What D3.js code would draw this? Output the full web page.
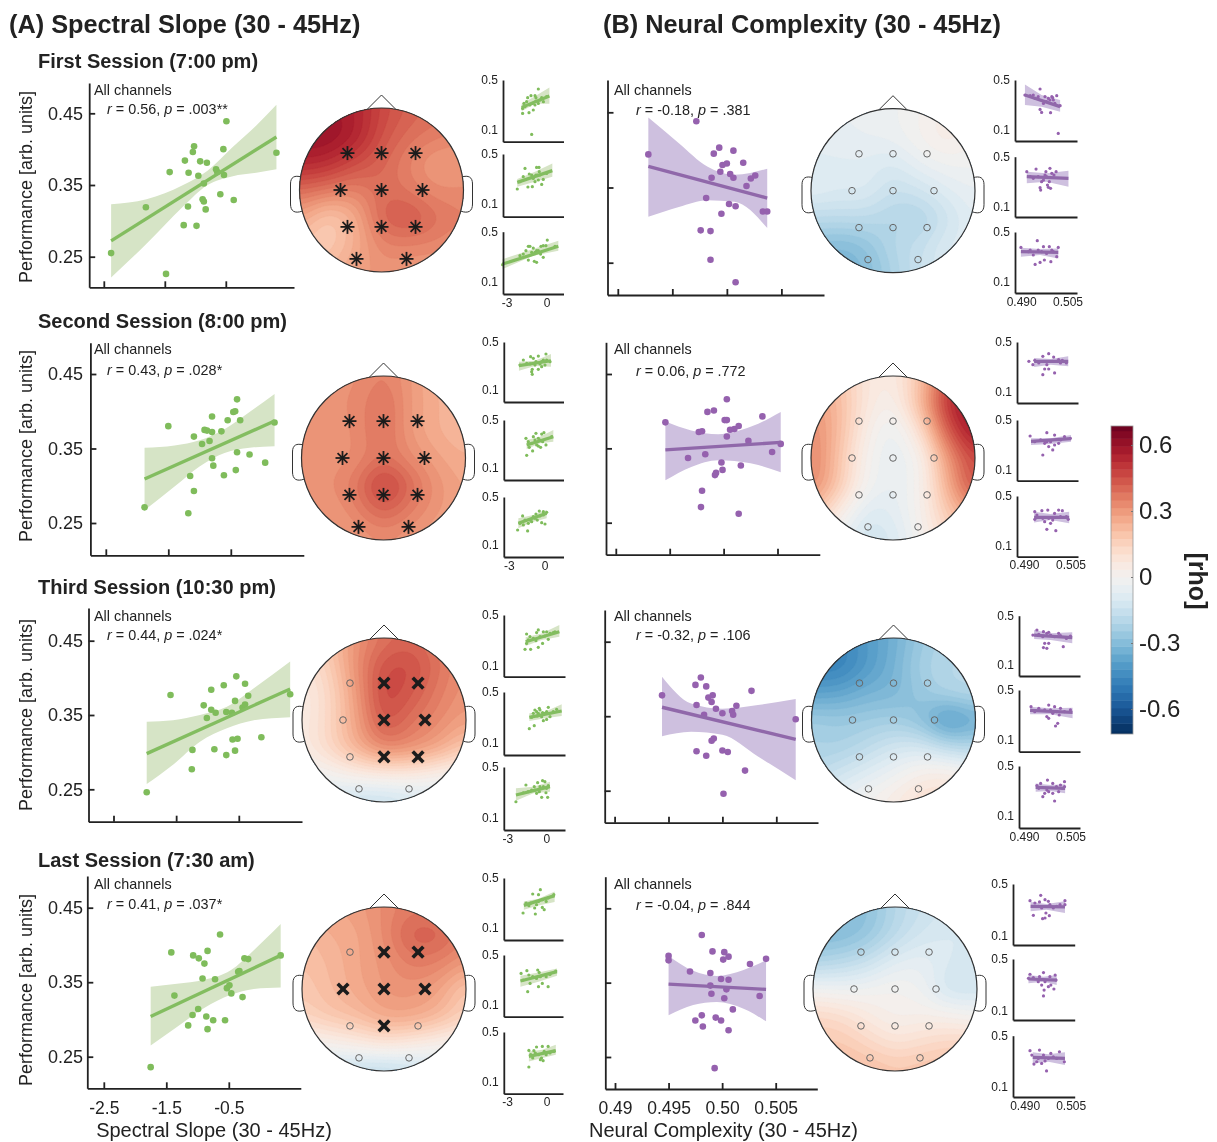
<!DOCTYPE html>
<html>
<head>
<meta charset="utf-8">
<title>Spectral slope and neural complexity vs performance</title>
<style>
body { margin: 0; background: #fff; }
svg { display: block; font-family: "Liberation Sans", Arial, sans-serif; filter: blur(0.45px); }
text { fill: #222; }
.axis path, .axis line { stroke: #222; }
.axis text { fill: #222; }
</style>
</head>
<body>
<div id="chart"></div>
<script src="https://cdn.jsdelivr.net/npm/d3@7"></script>
<script>
var sessionTitles = ["First Session (7:00 pm)", "Second Session (8:00 pm)", "Third Session (10:30 pm)", "Last Session (7:30 am)"];
var yTicks = [0.25, 0.35, 0.45], yTickLabels = ["0.25", "0.35", "0.45"];
var xTicksA = [-2.5, -1.5, -0.5], xTickLabelsA = ["-2.5", "-1.5", "-0.5"];
var xTicksB = [0.49, 0.495, 0.5, 0.505], xTickLabelsB = ["0.49", "0.495", "0.50", "0.505"];
var smallYTicks = [0.1, 0.5], smallYLabels = ["0.1", "0.5"];
var smallXTicksA = [-3, 0], smallXLabelsA = ["-3", "0"];
var smallXTicksB = [0.49, 0.505], smallXLabelsB = ["0.490", "0.505"];
var statsA = [["0.56", ".003**"], ["0.43", ".028*"], ["0.44", ".024*"], ["0.41", ".037*"]];
var statsB = [["-0.18", ".381"], ["0.06", ".772"], ["-0.32", ".106"], ["-0.04", ".844"]];
var cbTicks = [-0.6, -0.3, 0, 0.3, 0.6], cbLabels = ["-0.6", "-0.3", "0", "0.3", "0.6"];

// main scatter points [x, performance]
var ptsA1 = [[-2.38,.255],[-1.81,.319],[-1.48,.226],[-1.42,.368],[-1.19,.294],[-1.17,.384],[-1.12,.320],[-1.11,.367],[-1.04,.396],[-1.02,.404],[-.98,.293],[-.95,.363],[-.92,.383],[-.88,.330],[-.86,.327],[-.86,.352],[-.83,.316],[-.81,.381],[-.66,.372],[-.64,.368],[-.59,.337],[-.54,.400],[-.53,.364],[-.49,.439],[-.37,.329],[.33,.395]];
var ptsA2 = [[-1.88,.271],[-1.50,.380],[-1.18,.263],[-1.15,.313],[-1.09,.366],[-1.09,.293],[-.96,.356],[-.92,.375],[-.88,.374],[-.84,.360],[-.80,.393],[-.80,.337],[-.80,.372],[-.78,.327],[-.65,.373],[-.61,.314],[-.55,.388],[-.46,.399],[-.43,.400],[-.42,.321],[-.40,.416],[-.40,.345],[-.35,.388],[-.20,.342],[.05,.331],[.20,.385]];
var ptsA3 = [[-1.97,.246],[-1.59,.377],[-1.25,.277],[-1.24,.303],[-1.06,.363],[-1.01,.346],[-.94,.384],[-.94,.357],[-.89,.304],[-.87,.353],[-.74,.390],[-.70,.296],[-.70,.354],[-.61,.353],[-.60,.317],[-.56,.369],[-.56,.302],[-.54,.402],[-.52,.318],[-.44,.360],[-.40,.392],[-.40,.364],[-.35,.376],[-.14,.320],[.32,.378]];
var ptsA4 = [[-1.75,.236],[-1.42,.390],[-1.37,.332],[-1.15,.292],[-1.08,.306],[-1.07,.386],[-.99,.314],[-.98,.382],[-.92,.355],[-.89,.375],[-.86,.304],[-.84,.287],[-.84,.392],[-.75,.299],[-.72,.354],[-.64,.414],[-.56,.299],[-.53,.342],[-.49,.346],[-.46,.335],[-.35,.364],[-.33,.365],[-.28,.330],[-.25,.382],[-.19,.381],[.33,.386]];
var ptsB1 = [[.4928,.394],[.4972,.438],[.4976,.293],[.4981,.336],[.4985,.292],[.4985,.254],[.4986,.363],[.4988,.395],[.4993,.403],[.4994,.371],[.4995,.315],[.4996,.380],[.5000,.382],[.5002,.328],[.5003,.368],[.5006,.399],[.5006,.363],[.5008,.325],[.5008,.224],[.5015,.383],[.5018,.352],[.5022,.362],[.5026,.366],[.5033,.318],[.5037,.318]];
var ptsB2 = [[.4946,.385],[.4967,.337],[.4977,.372],[.4980,.373],[.4979,.271],[.4980,.293],[.4983,.342],[.4985,.399],[.4991,.401],[.4992,.314],[.4993,.317],[.4998,.331],[.4999,.321],[.5001,.388],[.5003,.388],[.5003,.416],[.5003,.366],[.5006,.375],[.5010,.376],[.5014,.380],[.5014,.262],[.5016,.327],[.5023,.360],[.5036,.393],[.5045,.345],[.5053,.356]];
var ptsB3 = [[.4944,.378],[.4975,.392],[.4976,.365],[.4976,.303],[.4980,.402],[.4983,.352],[.4985,.297],[.4985,.390],[.4987,.375],[.4991,.378],[.4990,.369],[.4990,.317],[.4992,.320],[.4994,.360],[.5000,.354],[.5000,.304],[.5001,.246],[.5005,.302],[.5009,.357],[.5010,.352],[.5013,.364],[.5021,.277],[.5027,.384],[.5068,.346]];
var ptsB4 = [[.4950,.386],[.4950,.380],[.4970,.365],[.4975,.299],[.4981,.414],[.4981,.306],[.4982,.291],[.4989,.363],[.4989,.346],[.4990,.335],[.4991,.392],[.4993,.235],[.4994,.303],[.4999,.299],[.4999,.355],[.5002,.391],[.5001,.381],[.5002,.329],[.5004,.341],[.5006,.385],[.5006,.354],[.5006,.286],[.5010,.314],[.5026,.375],[.5035,.332],[.5041,.382]];

// regression lines [x, y] ends and confidence bands [x, lower, upper]
var lineA1 = [[-2.38,.272],[.33,.417]], bandA1 = [[-2.38,.221,.323],[-1.8,.268,.33],[-1.2,.32,.35],[-.8,.35,.37],[-.4,.362,.402],[0,.367,.433],[.33,.372,.462]];
var lineA2 = [[-1.88,.309],[.2,.387]], bandA2 = [[-1.88,.267,.351],[-1.4,.299,.354],[-1,.326,.361],[-.6,.344,.376],[-.2,.351,.399],[.2,.353,.423]];
var lineA3 = [[-1.97,.298],[.32,.385]], bandA3 = [[-1.97,.257,.341],[-1.55,.283,.343],[-1.12,.314,.35],[-.69,.332,.361],[-.26,.343,.386],[.32,.347,.422]];
var lineA4 = [[-1.75,.304],[.33,.386]], bandA4 = [[-1.75,.265,.344],[-1.33,.29,.348],[-.9,.315,.353],[-.47,.333,.366],[-.1,.341,.393],[.33,.343,.428]];
var lineB1 = [[.4928,.378],[.5037,.336]], bandB1 = [[.4928,.311,.443],[.4956,.324,.409],[.4982,.333,.378],[.5007,.331,.367],[.5037,.296,.375]];
var lineB2 = [[.4946,.348],[.5053,.358]], bandB2 = [[.4946,.307,.386],[.4970,.325,.374],[.4995,.334,.369],[.5025,.33,.379],[.5053,.318,.399]];
var lineB3 = [[.4944,.362],[.5068,.319]], bandB3 = [[.4944,.323,.403],[.4971,.329,.367],[.5000,.325,.36],[.5033,.296,.365],[.5068,.264,.373]];
var lineB4 = [[.4950,.348],[.5041,.341]], bandB4 = [[.4950,.306,.386],[.4973,.32,.366],[.4995,.324,.359],[.5020,.315,.367],[.5041,.298,.38]];

// the three small channel-cluster scatters of every session
var smallA1 = [
  {line:[[-2.05,.281],[.03,.372]], band:[[-2.05,.25,.31],[-1.05,.31,.37],[.03,.31,.44]], pts:[[-.8,.428],[-1.6,.359],[-1.35,.375],[-1.05,.375],[-.98,.359],[-.55,.359],[-1.98,.273],[-1.88,.313],[-1.5,.239],[-1.18,.26],[-1.98,.233],[-1.3,.065],[-.42,.327],[-.8,.313],[-1.43,.3],[-.18,.367],[-1.68,.327],[-1.23,.313],[-.68,.34],[-.98,.332],[-1.8,.287],[-1.05,.3]]},
  {line:[[-2.38,.273],[.25,.367]], band:[[-2.38,.239,.3],[-1.05,.279,.359],[.25,.319,.425]], pts:[[-1.8,.385],[-1.48,.34],[-.93,.393],[-.75,.393],[-.73,.359],[-.43,.297],[-.55,.257],[-1.05,.279],[-1.25,.239],[-1.58,.236],[-2.38,.22],[-.98,.332],[-1.18,.305],[-.8,.292],[-1.93,.319],[-.68,.332],[-.18,.345],[-1.3,.332],[-.88,.332],[-2.18,.279]]},
  {line:[[-3.48,.241],[.7,.383]], band:[[-3.48,.201,.28],[-1.18,.308,.361],[.7,.348,.428]], pts:[[-3.48,.236],[-1.73,.348],[-1.55,.383],[-1.43,.383],[-.13,.433],[-.43,.388],[-.6,.383],[-1.18,.369],[-.93,.348],[-1.55,.273],[-1.1,.263],[-.93,.255],[-.43,.295],[-.63,.321],[-1.05,.335],[-1.3,.335],[-.8,.348],[-.23,.388],[-1.93,.321],[.45,.383],[-2.18,.308]]}
];
var smallA2 = [
  {line:[[-2.19,.303],[.5,.344]], band:[[-2.19,.261,.336],[-.84,.3,.344],[.5,.294,.4]], pts:[[-1.21,.378],[-.98,.364],[-.56,.383],[.08,.4],[-.14,.35],[-.28,.336],[0,.308],[-.56,.272],[-1.07,.272],[-1.12,.253],[-1.07,.231],[-.28,.294],[-.76,.336],[-1.54,.322],[-2.1,.308],[-1.82,.35],[.14,.35],[-.42,.317],[-1.26,.317],[-.84,.308],[.42,.336]]},
  {line:[[-1.54,.292],[.7,.361]], band:[[-1.54,.256,.333],[-.42,.306,.361],[.7,.319,.417]], pts:[[-1.54,.206],[-1.6,.347],[-.76,.389],[-.28,.383],[-.09,.394],[-1.04,.242],[-1.32,.272],[-.56,.283],[-.37,.272],[.08,.292],[-.2,.319],[-1.12,.306],[-.84,.333],[-.56,.347],[-1.4,.319],[-.42,.333],[-.98,.361],[.56,.361],[-.7,.292]]},
  {line:[[-2.24,.281],[.14,.364]], band:[[-2.24,.239,.322],[-.98,.294,.35],[.14,.322,.392]], pts:[[-2.3,.225],[-1.46,.217],[-1.88,.342],[-.76,.358],[-.48,.383],[-.14,.378],[.14,.372],[0,.275],[-.28,.286],[-.65,.308],[-.98,.336],[-1.26,.308],[-1.68,.308],[-2.1,.281],[-1.12,.294],[-.84,.322],[-.42,.342],[-1.4,.281],[-1.82,.267],[-.14,.35]]}
];
var smallA3 = [
  {line:[[-1.74,.289],[.85,.368]], band:[[-1.74,.255,.324],[-.51,.303,.355],[.85,.329,.421]], pts:[[-1.67,.35],[-.9,.361],[-.77,.382],[-.38,.368],[-.13,.368],[-1.79,.229],[-1.36,.229],[-.77,.245],[-.44,.276],[0,.308],[-1.54,.303],[-1.15,.316],[-.64,.329],[.13,.355],[.51,.368],[-.95,.297],[-1.41,.329],[-.26,.334],[.38,.361],[-1.67,.276]]},
  {line:[[-1.46,.3],[1.03,.35]], band:[[-1.46,.271,.332],[-.26,.292,.345],[1.03,.311,.403]], pts:[[-1.46,.211],[-1.08,.234],[-1.03,.358],[-.69,.371],[0,.379],[-.38,.274],[-.13,.284],[.13,.305],[-.51,.305],[-.9,.345],[-.26,.332],[.38,.345],[-1.28,.3],[-.77,.332],[-.64,.358],[-1.15,.332],[-.44,.337],[-.13,.345],[.64,.363],[-.85,.311]]},
  {line:[[-2.49,.279],[.13,.345]], band:[[-2.49,.234,.332],[-1.15,.292,.345],[.13,.305,.384]], pts:[[-2.49,.226],[-1.72,.358],[-1.08,.345],[-.82,.376],[-.44,.392],[-.26,.384],[0,.353],[-.51,.261],[-.05,.261],[-.18,.297],[-.69,.305],[-.9,.292],[-1.54,.305],[-1.92,.297],[-1.28,.318],[-.38,.345],[-.64,.345],[-.13,.332],[-1.03,.318]]}
];
var smallA4 = [
  {line:[[-1.92,.281],[.41,.359]], band:[[-1.92,.247,.313],[-.81,.281,.335],[.41,.308,.393]], pts:[[-.67,.407],[-1.25,.372],[-.81,.367],[-1.98,.22],[-1.05,.212],[-.38,.247],[-.52,.265],[-1.1,.26],[-1.75,.3],[-1.4,.3],[-.81,.313],[-.23,.313],[.21,.353],[.35,.367],[-1.54,.279],[-.52,.327],[-.08,.34],[-.96,.287]]},
  {line:[[-2.18,.292],[.59,.367]], band:[[-2.18,.247,.335],[-.81,.287,.361],[.59,.335,.393]], pts:[[-1.63,.207],[-1.69,.375],[-.87,.38],[-.76,.361],[.5,.372],[-.81,.247],[-.08,.247],[-1.45,.273],[-.52,.273],[-1.25,.327],[-.23,.327],[-1.98,.3],[-.96,.313],[.06,.345],[-1.54,.34],[-.67,.327],[-2.13,.353]]},
  {line:[[-1.54,.305],[.5,.351]], band:[[-1.54,.265,.345],[-.52,.292,.359],[.5,.319,.399]], pts:[[-1.54,.22],[-1.54,.353],[-.96,.38],[-.52,.385],[-.08,.385],[.35,.345],[-.67,.279],[-.46,.271],[-1.25,.292],[-.81,.319],[-.23,.319],[-1.4,.319],[-1.05,.332],[-.38,.345],[.06,.332],[-.58,.292],[-1.16,.351]]}
];
var smallB1 = [
  {line:[[.4904,.38],[.5018,.287]], band:[[.4904,.3,.465],[.4958,.287,.38],[.5018,.247,.34]], pts:[[.4953,.428],[.4904,.38],[.4931,.38],[.4947,.367],[.4969,.367],[.4991,.367],[.5007,.375],[.4985,.34],[.4953,.265],[.4958,.241],[.4987,.239],[.5012,.073],[.4964,.313],[.4996,.34],[.498,.353],[.4937,.353],[.4921,.375],[.5001,.313],[.4974,.327],[.4994,.359],[.5018,.295]]},
  {line:[[.491,.34],[.5045,.327]], band:[[.491,.287,.38],[.4974,.3,.367],[.5045,.26,.388]], pts:[[.491,.38],[.494,.401],[.4972,.38],[.4985,.407],[.5005,.38],[.4998,.353],[.4974,.34],[.4983,.3],[.4987,.247],[.498,.255],[.4958,.3],[.4955,.233],[.4953,.252],[.4964,.313],[.4969,.353],[.4991,.367],[.4947,.34],[.4931,.327],[.4977,.273],[.4921,.34]]},
  {line:[[.4891,.343],[.5012,.337]], band:[[.4891,.303,.375],[.4953,.316,.364],[.5012,.289,.369]], pts:[[.4891,.377],[.4944,.431],[.4964,.383],[.4983,.383],[.5012,.377],[.4937,.241],[.4953,.257],[.4967,.276],[.4988,.263],[.4947,.356],[.4915,.343],[.4931,.316],[.4958,.343],[.4974,.329],[.4996,.343],[.5007,.303],[.4921,.356],[.4991,.356]]}
];
var smallB2 = [
  {line:[[.4923,.343],[.5033,.343]], band:[[.4923,.297,.37],[.4976,.316,.362],[.5033,.303,.384]], pts:[[.497,.405],[.4951,.384],[.4986,.378],[.5002,.357],[.4925,.351],[.4906,.343],[.5027,.33],[.5008,.33],[.4957,.281],[.497,.281],[.4951,.235],[.4989,.249],[.4964,.316],[.4983,.343],[.4938,.33],[.4995,.343],[.5014,.351],[.4919,.316]]},
  {line:[[.4913,.327],[.5042,.349]], band:[[.4913,.297,.351],[.4976,.305,.351],[.5042,.324,.378]], pts:[[.491,.37],[.4964,.397],[.4989,.378],[.5021,.365],[.4951,.216],[.4983,.257],[.4989,.297],[.497,.284],[.504,.351],[.4925,.324],[.4944,.338],[.4964,.324],[.5008,.338],[.4976,.324],[.4957,.311],[.5002,.311]]},
  {line:[[.4923,.327],[.5036,.327]], band:[[.4923,.284,.373],[.4976,.305,.354],[.5036,.278,.373]], pts:[[.4925,.373],[.4948,.381],[.4967,.386],[.5002,.386],[.5014,.381],[.4932,.346],[.4989,.359],[.4964,.23],[.4993,.219],[.4976,.278],[.4957,.292],[.4983,.305],[.5027,.332],[.4951,.319],[.5008,.332],[.4925,.311],[.497,.319],[.5033,.311]]}
];
var smallB3 = [
  {line:[[.4923,.343],[.5046,.322]], band:[[.4923,.311,.384],[.4976,.303,.357],[.5046,.276,.365]], pts:[[.4932,.384],[.4953,.37],[.497,.365],[.5002,.357],[.4919,.343],[.4957,.276],[.497,.276],[.4964,.235],[.4953,.241],[.5017,.249],[.4989,.33],[.4951,.33],[.5027,.316],[.4976,.343],[.4938,.349],[.5008,.338],[.4964,.357],[.504,.335]]},
  {line:[[.491,.335],[.5047,.319]], band:[[.491,.303,.365],[.4976,.303,.351],[.5047,.27,.357]], pts:[[.4913,.365],[.497,.378],[.4989,.365],[.4938,.351],[.4957,.338],[.4976,.338],[.5008,.351],[.4964,.284],[.5004,.297],[.4999,.23],[.4992,.208],[.497,.27],[.504,.338],[.5021,.324],[.4983,.311],[.4925,.324],[.4995,.324]]},
  {line:[[.4928,.327],[.5023,.319]], band:[[.4928,.292,.359],[.4976,.297,.346],[.5023,.278,.351]], pts:[[.4944,.359],[.4966,.386],[.4983,.359],[.5021,.373],[.4932,.341],[.4951,.251],[.4989,.216],[.497,.292],[.5002,.292],[.4957,.278],[.4983,.278],[.5014,.319],[.4938,.319],[.4995,.332],[.4964,.305],[.5008,.346],[.5021,.332]]}
];
var smallB4 = [
  {line:[[.4916,.326],[.5028,.321]], band:[[.4916,.287,.36],[.4968,.3,.344],[.5028,.274,.365]], pts:[[.4914,.37],[.4949,.412],[.4945,.36],[.4963,.378],[.4974,.365],[.5028,.37],[.4925,.256],[.4955,.23],[.4963,.235],[.4977,.253],[.4966,.274],[.4952,.313],[.4941,.326],[.499,.313],[.5012,.339],[.4979,.339],[.493,.352],[.5001,.326],[.5028,.339]]},
  {line:[[.4909,.344],[.5001,.336]], band:[[.4909,.31,.375],[.4958,.323,.362],[.5001,.297,.375]], pts:[[.4914,.381],[.4958,.394],[.4945,.362],[.4925,.355],[.4979,.362],[.4996,.375],[.496,.258],[.4958,.212],[.4974,.284],[.4992,.266],[.4982,.297],[.4963,.323],[.4941,.323],[.4952,.297],[.4999,.336],[.4909,.349]]},
  {line:[[.4923,.331],[.5028,.323]], band:[[.4923,.284,.37],[.4974,.297,.355],[.5028,.271,.37]], pts:[[.4914,.383],[.4927,.279],[.4945,.388],[.4952,.284],[.4968,.225],[.4982,.362],[.501,.375],[.5026,.297],[.4941,.323],[.4958,.349],[.4974,.323],[.499,.336],[.4936,.297],[.5001,.323],[.492,.349],[.4963,.303]]}
];

// topography: rho read on a 7 x 7 grid over the head, rows front to back
var rhoA1 = [[.58,.58,.55,.47,.42,.39,.38],[.6,.6,.55,.45,.39,.36,.34],[.54,.52,.46,.41,.35,.3,.3],[.4,.37,.35,.39,.37,.33,.33],[.28,.2,.26,.4,.43,.38,.35],[.2,.18,.25,.34,.35,.34,.32],[.2,.23,.28,.31,.3,.29,.28]];
var rhoA2 = [[.31,.32,.32,.35,.3,.24,.23],[.32,.32,.33,.38,.3,.25,.23],[.31,.31,.33,.38,.3,.25,.23],[.31,.31,.33,.38,.33,.28,.25],[.31,.32,.37,.48,.39,.31,.27],[.3,.3,.34,.4,.35,.3,.27],[.29,.29,.3,.32,.3,.27,.27]];
var rhoA3 = [[.1,.2,.31,.38,.4,.36,.32],[.08,.17,.32,.44,.45,.38,.32],[.05,.14,.3,.46,.43,.36,.31],[.05,.14,.28,.43,.38,.33,.28],[.05,.13,.24,.33,.31,.26,.18],[-.02,0,.04,.06,.06,.03,0],[-.1,-.12,-.15,-.15,-.12,-.1,-.08]];
var rhoA4 = [[.25,.27,.29,.33,.36,.35,.32],[.22,.25,.27,.33,.41,.41,.35],[.2,.23,.27,.31,.36,.35,.3],[.18,.22,.26,.3,.31,.28,.19],[.14,.18,.21,.26,.26,.22,.15],[0,.02,.05,.08,.06,.03,0],[-.1,-.14,-.17,-.18,-.15,-.12,-.08]];
var rhoB1 = [[-.06,-.05,-.04,-.03,0,.03,0],[-.07,-.06,-.05,-.04,0,.04,0],[-.08,-.08,-.08,-.1,-.05,-.02,-.02],[-.08,-.1,-.1,-.15,-.13,-.08,-.05],[-.18,-.18,-.18,-.2,-.2,-.13,-.07],[-.28,-.3,-.27,-.2,-.16,-.1,-.08],[-.3,-.33,-.3,-.22,-.15,-.1,-.08]];
var rhoB2 = [[.25,.2,.08,.06,.2,.45,.6],[.3,.22,.08,.03,.22,.5,.62],[.33,.22,.05,-.03,.12,.42,.58],[.35,.2,.02,-.05,.03,.3,.48],[.33,.18,0,-.05,.02,.25,.45],[.2,.06,-.08,-.07,.02,.18,.3],[.05,-.05,-.12,-.1,0,.12,.2]];
var rhoB3 = [[-.45,-.46,-.4,-.34,-.26,-.21,-.2],[-.47,-.47,-.4,-.33,-.24,-.2,-.2],[-.38,-.37,-.33,-.31,-.26,-.22,-.2],[-.25,-.26,-.25,-.24,-.28,-.39,-.33],[-.22,-.22,-.18,-.13,-.12,-.18,-.2],[-.18,-.13,-.08,-.03,.03,.04,0],[-.1,-.05,0,.05,.1,.1,.05]];
var rhoB4 = [[-.28,-.3,-.28,-.2,-.15,-.12,-.1],[-.3,-.3,-.26,-.18,-.12,-.1,-.1],[-.21,-.19,-.15,-.08,-.06,-.1,-.12],[-.02,-.03,-.02,0,-.03,-.12,-.12],[.13,.11,.06,.02,.03,.02,0],[.18,.18,.14,.1,.12,.14,.14],[.21,.22,.21,.19,.2,.21,.21]];

// electrode sites in head radii, with 1 where the cluster is significant
var sites = [[-.415,-.45],[0,-.45],[.415,-.45],[-.5,0],[0,0],[.5,0],[-.415,.45],[0,.45],[.415,.45],[-.305,.84],[.305,.84]];
var sigA3 = [0,1,1,0,1,1,0,1,1,0,0];
var sigA4 = [0,1,1,1,1,1,0,1,0,0,0];

var width = 1217, height = 1142;
var green = {dot: "#7fbc5b", line: "#83bd60", band: "#d6e4c6"};
var purple = {dot: "#9561ae", line: "#9068aa", band: "#cec0df"};

var color = d3.scaleSequential(function(t) { return d3.interpolateRdBu(1 - t); }).domain([-0.7, 0.7]);

var svg = d3.select("#chart").append("svg").attr("width", width).attr("height", height);

var framesA = [
  {l:89.2, r:294, t:83, b:287.3, xt:[103.8,225.8], yt:[256.7,113.3], ty:[90,109], yc:187},
  {l:90.4, r:303.8, t:342.7, b:555.3, xt:[105.8,230.8], yt:[523,374], ty:[349,370], yc:446},
  {l:88.5, r:302, t:608, b:821.7, xt:[113.5,238.8], yt:[789.3,640.7], ty:[616,635], yc:715},
  {l:87.3, r:300.8, t:876, b:1088.3, xt:[103.8,228.8], yt:[1056.7,907.7], ty:[884,904], yc:990}
];
var framesB = [
  {l:607.5, r:824, t:80, b:295, xt:[617.8,781.4], yt:[262.7,112.3], ty:[90,110]},
  {l:606, r:819.8, t:342.3, b:554.7, xt:[615.8,777.5], yt:[522.7,374], ty:[349,371]},
  {l:604.7, r:818, t:610, b:822.7, xt:[614.6,776.3], yt:[790.7,641.7], ty:[616,635]},
  {l:605.3, r:817.3, t:876.7, b:1089, xt:[615,775.7], yt:[1057,908.3], ty:[884,905]}
];
var headsA = [[381.5,190],[383.5,458],[384,720],[384,989]];
var headsB = [[893,190.7],[893,458],[893.5,720],[895,989]];
var smallFramesA = [
  {l:503, r:563.5, x:[509,549], k:50, dx:-2.5, rows:[[80,141.7],[154,216.7],[231.7,294]]},
  {l:503.8, r:563.5, x:[509.3,545], k:48, dx:-.5, rows:[[342,402],[420,480],[497,557]]},
  {l:503.8, r:565, x:[509.3,548.3], k:50.7, dx:-2, rows:[[615,676.7],[692,755],[767,830]]},
  {l:503.8, r:563, x:[509.6,549.2], k:50, dx:-2.5, rows:[[878,940],[955,1016.7],[1032,1093.7]]}
];
var smallFramesB = [
  {l:1015, r:1077, x:[1023.7,1070], k:50, dx:-2.5, rows:[[80,141],[156.7,217],[232,293]]},
  {l:1017, r:1078, x:[1027,1073.5], k:49.3, dx:-3, rows:[[342,403],[420,480.7],[496,556.7]]},
  {l:1019, r:1080, x:[1027,1073.5], k:49.3, dx:-3, rows:[[615.7,676],[690,751.7],[766,828]]},
  {l:1013, r:1074.7, x:[1025.7,1071.7], k:51.3, dx:-1, rows:[[884,945],[959,1020],[1035.7,1097]]}
];

function title(txt, x, y, size) {
  svg.append("text").attr("x", x).attr("y", y).attr("dy", ".35em")
    .attr("font-size", size).attr("font-weight", "bold").text(txt);
}

function mainPanel(f, o) {
  var x = d3.scaleLinear().domain(o.xDom).range(f.xt);
  x = x.copy().domain([x.invert(f.l), x.invert(f.r)]).range([f.l, f.r]);
  var y = d3.scaleLinear().domain([0.25, 0.45]).range(f.yt);
  y = y.copy().domain([y.invert(f.b), y.invert(f.t)]).range([f.b, f.t]);

  var area = d3.area().x(function(d) { return x(d[0]); }).y0(function(d) { return y(d[1]); }).y1(function(d) { return y(d[2]); }).curve(d3.curveMonotoneX);
  var g = svg.append("g");
  g.append("path").attr("d", area(o.band)).attr("fill", o.col.band);
  g.selectAll("circle").data(o.pts).join("circle")
    .attr("cx", function(d) { return x(d[0]); }).attr("cy", function(d) { return y(d[1]); })
    .attr("r", 3.3).attr("fill", o.col.dot);
  g.append("line").attr("x1", x(o.line[0][0])).attr("y1", y(o.line[0][1])).attr("x2", x(o.line[1][0])).attr("y2", y(o.line[1][1]))
    .attr("stroke", o.col.line).attr("stroke-width", 3.4);

  var ax = d3.axisBottom(x).tickValues(o.xTicks).tickSizeOuter(0).tickSizeInner(-6).tickPadding(13)
    .tickFormat(function(d, i) { return o.xLabels ? o.xLabels[i] : ""; });
  var gx = svg.append("g").attr("class", "axis").attr("transform", "translate(0," + f.b + ")").call(ax);
  gx.selectAll("text").attr("font-size", 17.5);
  var ay = d3.axisLeft(y).tickValues(yTicks).tickSizeOuter(0).tickSizeInner(-6).tickPadding(f.l - 83)
    .tickFormat(function(d, i) { return o.yLabels ? yTickLabels[i] : ""; });
  var gy = svg.append("g").attr("class", "axis").attr("transform", "translate(" + f.l + ",0)").call(ay);
  gy.selectAll("text").attr("font-size", 18);
  svg.selectAll(".axis path, .axis line").attr("stroke-width", 1.8);

  svg.append("text").attr("x", o.tx).attr("y", f.ty[0]).attr("dy", ".35em").attr("font-size", 14.4).text("All channels");
  var st = svg.append("text").attr("x", o.sx).attr("y", f.ty[1]).attr("dy", ".35em").attr("font-size", 14.4);
  st.append("tspan").attr("font-style", "italic").text("r");
  st.append("tspan").text(" = " + o.stat[0] + ", ");
  st.append("tspan").attr("font-style", "italic").text("p");
  st.append("tspan").text(" = " + o.stat[1]);
}

function smallPanel(f, row, d, o, last) {
  var top = f.rows[row][0], bot = f.rows[row][1];
  var x = d3.scaleLinear().domain(o.dom).range(f.x);
  var y = d3.scaleLinear().domain([0.1, 0.5]).range([top + f.k, top]);
  var yAxisScale = y.copy().domain([y.invert(bot), 0.5]).range([bot, top]);
  var xAxisScale = x.copy().domain([x.invert(f.l), x.invert(f.r)]).range([f.l, f.r]);

  var area = d3.area().x(function(e) { return x(e[0]); }).y0(function(e) { return y(e[1]); }).y1(function(e) { return y(e[2]); });
  var g = svg.append("g");
  g.append("path").attr("d", area(d.band)).attr("fill", o.col.band);
  g.selectAll("circle").data(d.pts).join("circle")
    .attr("cx", function(e) { return x(e[0]); }).attr("cy", function(e) { return y(e[1]); })
    .attr("r", 1.6).attr("fill", o.col.dot);
  g.append("line").attr("x1", x(d.line[0][0])).attr("y1", y(d.line[0][1])).attr("x2", x(d.line[1][0])).attr("y2", y(d.line[1][1]))
    .attr("stroke", o.col.line).attr("stroke-width", 3.2);

  var gy = svg.append("g").attr("class", "axis small").attr("transform", "translate(" + f.l + ",0)")
    .call(d3.axisLeft(yAxisScale).tickValues(smallYTicks).tickSize(0).tickPadding(5).tickFormat(function(v, i) { return smallYLabels[i]; }));
  gy.selectAll("text").attr("font-size", 12);
  var gx = svg.append("g").attr("class", "axis small").attr("transform", "translate(0," + bot + ")")
    .call(d3.axisBottom(xAxisScale).tickValues(o.ticks).tickSize(0).tickPadding(4).tickFormat(function(v, i) { return last ? o.labels[i] : ""; }));
  gx.selectAll("text").attr("font-size", 12).attr("dx", f.dx);
  svg.selectAll(".small path").attr("stroke-width", 1.8);
}

// bicubic lookup into a rho grid, u and v run from 0 to 6
function cubic(a, b, c, d, t) {
  return b + 0.5 * t * (c - a + t * (2 * a - 5 * b + 4 * c - d + t * (3 * (b - c) + d - a)));
}
function sample(grid, u, v) {
  var i = Math.min(Math.floor(u), 5), j = Math.min(Math.floor(v), 5);
  var rows = [];
  for (var m = -1; m <= 2; m++) {
    var r = grid[Math.max(0, Math.min(6, j + m))];
    rows.push(cubic(r[Math.max(0, i - 1)], r[i], r[i + 1], r[Math.min(6, i + 2)], u - i));
  }
  return cubic(rows[0], rows[1], rows[2], rows[3], v - j);
}

var headCount = 0;
function head(center, rho, sig) {
  var cx = center[0], cy = center[1], R = 82, n = 120;
  var id = "clip" + (headCount++);
  var g = svg.append("g");
  var stroke = "#333";

  // ears and nose sit behind the scalp
  [-1, 1].forEach(function(s) {
    g.append("path")
      .attr("d", "M" + (cx + s * 80) + "," + (cy - 13) + "C" + (cx + s * 87) + "," + (cy - 15) + " " + (cx + s * 91) + "," + (cy - 13) + " " + (cx + s * 91) + "," + (cy - 6)
        + "L" + (cx + s * 91) + "," + (cy + 14) + "C" + (cx + s * 91) + "," + (cy + 21) + " " + (cx + s * 87) + "," + (cy + 24) + " " + (cx + s * 79) + "," + (cy + 21))
      .attr("fill", "#fff").attr("stroke", stroke).attr("stroke-width", 1);
  });
  g.append("path").attr("d", "M" + (cx - 15) + "," + (cy - 80) + "L" + cx + "," + (cy - 95) + "L" + (cx + 15) + "," + (cy - 80))
    .attr("fill", "none").attr("stroke", stroke).attr("stroke-width", 1);

  g.append("clipPath").attr("id", id).append("circle").attr("cx", cx).attr("cy", cy).attr("r", R);

  var values = new Array(n * n);
  for (var j = 0; j < n; j++) {
    for (var i = 0; i < n; i++) {
      values[j * n + i] = sample(rho, (i + 0.5) / n * 6, (j + 0.5) / n * 6);
    }
  }
  // soften the coarse grid so the map reads as one smooth field
  d3.blur2({data: values, width: n, height: n}, 6);
  var step = 0.025;
  var thresholds = d3.range(-0.75, 0.75, step);
  var contours = d3.contours().size([n, n]).thresholds(thresholds)(values);
  var path = d3.geoPath(d3.geoIdentity().scale(2 * R / n).translate([cx - R, cy - R]));
  g.append("g").attr("clip-path", "url(#" + id + ")")
    .selectAll("path").data(contours).join("path")
    .attr("d", path)
    .attr("fill", function(d) { return color(d.value + step / 2); })
    .attr("stroke", function(d) { return color(d.value + step / 2); })
    .attr("stroke-width", 0.3);
  g.append("circle").attr("cx", cx).attr("cy", cy).attr("r", R).attr("fill", "none").attr("stroke", stroke).attr("stroke-width", 1.2);

  sites.forEach(function(s, k) {
    var sx = cx + s[0] * R, sy = cy + s[1] * R;
    if (sig[k] === 1) {
      var arms = sig.star ? [0, 45, 90, 135] : [45, 135];
      var len = sig.star ? 7 : 7.5;
      arms.forEach(function(a) {
        var dx = len * Math.cos(a * Math.PI / 180), dy = len * Math.sin(a * Math.PI / 180);
        g.append("line").attr("x1", sx - dx).attr("y1", sy - dy).attr("x2", sx + dx).attr("y2", sy + dy)
          .attr("stroke", "#1c1c1c").attr("stroke-width", sig.star ? 1.8 : 3.6);
      });
    } else {
      g.append("circle").attr("cx", sx).attr("cy", sy).attr("r", 3.3).attr("fill", "none").attr("stroke", "#666").attr("stroke-width", 1);
    }
  });
}

title("(A) Spectral Slope (30 - 45Hz)", 9, 24, 25.3);
title("(B) Neural Complexity (30 - 45Hz)", 603, 24, 25.3);
[61, 321, 587, 860].forEach(function(y, i) { title(sessionTitles[i], 38, y, 20); });

var ptsA = [ptsA1, ptsA2, ptsA3, ptsA4], ptsB = [ptsB1, ptsB2, ptsB3, ptsB4];
var lineA = [lineA1, lineA2, lineA3, lineA4], lineB = [lineB1, lineB2, lineB3, lineB4];
var bandA = [bandA1, bandA2, bandA3, bandA4], bandB = [bandB1, bandB2, bandB3, bandB4];
var smallA = [smallA1, smallA2, smallA3, smallA4], smallB = [smallB1, smallB2, smallB3, smallB4];
var rhoA = [rhoA1, rhoA2, rhoA3, rhoA4], rhoB = [rhoB1, rhoB2, rhoB3, rhoB4];

var allSig = sites.map(function() { return 1; });
var sigMaps = [allSig.slice(), allSig.slice(), sigA3, sigA4];
sigMaps[0].star = true; sigMaps[1].star = true;
var noSig = sites.map(function() { return 0; });

d3.range(4).forEach(function(i) {
  var bottom = i === 3;
  mainPanel(framesA[i], {xDom: [-2.5, -0.5], xTicks: xTicksA, xLabels: bottom ? xTickLabelsA : null, yLabels: true, col: green,
    pts: ptsA[i], line: lineA[i], band: bandA[i], stat: statsA[i], tx: 94, sx: 107});
  mainPanel(framesB[i], {xDom: [0.49, 0.505], xTicks: xTicksB, xLabels: bottom ? xTickLabelsB : null, yLabels: false, col: purple,
    pts: ptsB[i], line: lineB[i], band: bandB[i], stat: statsB[i], tx: 614, sx: 636});
  head(headsA[i], rhoA[i], sigMaps[i]);
  head(headsB[i], rhoB[i], noSig);
  d3.range(3).forEach(function(r) {
    smallPanel(smallFramesA[i], r, smallA[i][r], {dom: [-3, 0], col: green, ticks: smallXTicksA, labels: smallXLabelsA}, r === 2);
    smallPanel(smallFramesB[i], r, smallB[i][r], {dom: [0.49, 0.505], col: purple, ticks: smallXTicksB, labels: smallXLabelsB}, r === 2);
  });
  svg.append("text").attr("transform", "translate(26," + framesA[i].yc + ") rotate(-90)")
    .attr("text-anchor", "middle").attr("dy", ".35em").attr("font-size", 18).text("Performance [arb. units]");
});

svg.append("text").attr("x", 214).attr("y", 1130).attr("dy", ".35em").attr("text-anchor", "middle").attr("font-size", 20).text("Spectral Slope (30 - 45Hz)");
svg.append("text").attr("x", 723.5).attr("y", 1130).attr("dy", ".35em").attr("text-anchor", "middle").attr("font-size", 20).text("Neural Complexity (30 - 45Hz)");

// colour bar
var cbY = d3.scaleLinear().domain([-0.6, 0.6]).range([709, 445]);
var cbTop = 426, cbBottom = 734, cbLeft = 1111, cbRight = 1133;
var cbBands = d3.range(-0.735, 0.735, 0.035);
var cb = svg.append("g");
cb.append("clipPath").attr("id", "cbclip").append("rect").attr("x", cbLeft).attr("y", cbTop).attr("width", cbRight - cbLeft).attr("height", cbBottom - cbTop);
cb.append("g").attr("clip-path", "url(#cbclip)").selectAll("rect").data(cbBands).join("rect")
  .attr("x", cbLeft).attr("width", cbRight - cbLeft)
  .attr("y", function(d) { return cbY(d + 0.035); })
  .attr("height", function(d) { return cbY(d) - cbY(d + 0.035) + 0.5; })
  .attr("fill", function(d) { return color(d + 0.0175); });
cb.append("rect").attr("x", cbLeft).attr("y", cbTop).attr("width", cbRight - cbLeft).attr("height", cbBottom - cbTop)
  .attr("fill", "none").attr("stroke", "#999").attr("stroke-width", 0.8);
var cbAxis = svg.append("g").attr("class", "cb").attr("transform", "translate(" + cbRight + ",0)")
  .call(d3.axisRight(cbY).tickValues(cbTicks).tickSize(-2).tickPadding(6).tickFormat(function(d, i) { return cbLabels[i]; }));
cbAxis.select(".domain").remove();
cbAxis.selectAll("line").attr("stroke", "#777");
cbAxis.selectAll("text").attr("font-size", 24).attr("fill", "#222");

svg.append("text").attr("transform", "translate(1198,581) rotate(90)").attr("text-anchor", "middle").attr("dy", ".35em")
  .attr("font-size", 25).attr("font-weight", "bold").text("[rho]");
</script>
</body>
</html>
